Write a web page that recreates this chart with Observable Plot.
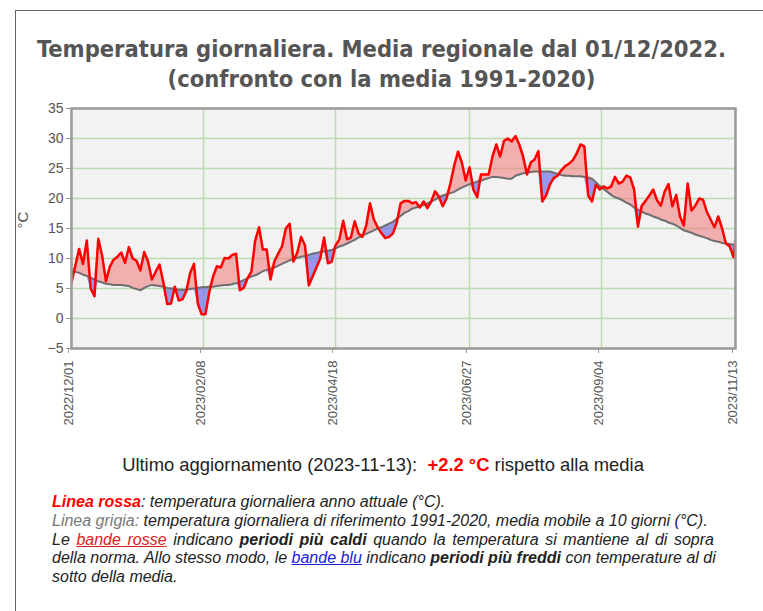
<!DOCTYPE html>
<html>
<head>
<meta charset="utf-8">
<script src="https://cdn.jsdelivr.net/npm/d3@7"></script>
<script src="https://cdn.jsdelivr.net/npm/@observablehq/plot@0.6"></script>
<style>
  body { margin:0; background:#fff; width:763px; height:611px; overflow:hidden; position:relative; }
  #frame { position:absolute; left:15px; top:10px; width:800px; height:700px; border:1px solid #666; box-sizing:border-box; }
  #title { position:absolute; top:34px; left:0; width:763px; text-align:center; font-family:"DejaVu Sans Condensed","DejaVu Sans"; font-weight:bold; font-size:23.5px; line-height:30px; color:#555; }
  #chart { position:absolute; left:0; top:95px; }
  #upd { position:absolute; top:454px; left:0; width:766px; text-align:center; font-family:"Liberation Sans",Arial; font-size:18.4px; color:#222; }
  #upd b { color:#ff0000; }
  #legend { position:absolute; left:52px; top:493px; width:662px; font-family:"Liberation Sans",Arial; font-style:italic; font-size:16px; line-height:18.8px; color:#222; }
  #legend .l { white-space:nowrap; }
  #legend .j { text-align:justify; text-align-last:justify; white-space:nowrap; }
  .red { color:#ff0000; font-weight:bold; }
  .grey { color:#777; }
  .ured { color:#e02020; text-decoration:underline; }
  .ublu { color:#2020e0; text-decoration:underline; }
</style>
</head>
<body>
<div id="frame"></div>
<div id="title">Temperatura giornaliera. Media regionale dal 01/12/2022.<br>(confronto con la media 1991-2020)</div>
<div id="chart"></div>
<div id="upd">Ultimo aggiornamento (2023-11-13):&nbsp; <b>+2.2 °C</b> rispetto alla media</div>
<div id="legend">
  <div class="l"><span class="red">Linea rossa</span>: temperatura giornaliera anno attuale (°C).</div>
  <div class="l"><span class="grey">Linea grigia:</span> temperatura giornaliera di riferimento 1991-2020, media mobile a 10 giorni (°C).</div>
  <div class="j">Le <span class="ured">bande rosse</span> indicano <b>periodi più caldi</b> quando la temperatura si mantiene al di sopra</div>
  <div class="j">della norma. Allo stesso modo, le <span class="ublu">bande blu</span> indicano <b>periodi più freddi</b> con temperature al di</div>
  <div class="l">sotto della media.</div>
</div>
<script>
// First day of the series; values are read every 2 days
const startDate = "2022-12-01";
const endDate = "2023-11-13";
const stepDays = 2;

// Red line: daily temperature of current year (°C), every 2 days
const red = [
  6.0, 8.8, 11.6, 9.1, 13.0, 5.0, 3.7, 13.3, 10.5, 6.2,
  8.6, 9.8, 10.3, 11.0, 9.3, 11.9, 10.0, 9.6, 8.0, 11.1,
  9.5, 6.5, 7.8, 9.0, 6.0, 2.4, 2.5, 5.3, 3.0, 3.2,
  4.6, 7.6, 9.1, 2.5, 0.7, 0.7, 4.4, 7.0, 8.7, 8.5,
  10.1, 10.0, 10.6, 10.8, 4.7, 5.1, 6.7, 7.8, 13.0, 15.2,
  11.5, 11.5, 6.5, 9.5, 10.8, 12.0, 15.0, 15.8, 9.5, 11.0,
  13.6, 12.2, 5.5, 7.0, 8.5, 10.0, 13.5, 9.2, 9.5, 12.2,
  13.2, 16.3, 13.2, 13.5, 16.2, 14.2, 13.6, 15.5, 19.2, 16.5,
  15.2, 14.2, 13.4, 13.6, 14.2, 16.0, 19.2, 19.6, 19.6, 19.2,
  19.4, 18.5, 19.5, 18.4, 19.5, 21.2, 20.3, 18.7, 20.0, 22.5,
  25.5, 27.8, 26.0, 23.0, 25.2, 21.5, 20.2, 24.0, 24.0, 24.0,
  27.0, 29.0, 27.0, 29.6, 30.0, 29.5, 30.4, 29.0, 27.0, 24.0,
  26.0, 26.5, 27.9, 19.5, 20.5, 22.3, 23.4, 23.8, 24.7, 25.4,
  25.8, 26.4, 27.5, 29.0, 28.7, 20.5, 19.5, 22.3, 21.5, 22.0,
  21.7, 22.0, 23.6, 22.5, 22.8, 23.8, 23.5, 21.5, 15.3, 18.8,
  19.6, 20.5, 21.5, 19.7, 18.8, 21.2, 22.4, 18.7, 20.6, 17.0,
  15.5, 22.5, 18.0, 18.8, 20.0, 19.8, 17.8, 16.5, 15.2, 17.0,
  15.0, 12.5, 12.0, 10.2, 15.0
];

// Grey line: reference 1991-2020, 10-day moving average (°C), every 2 days
const grey = [
  8.0, 7.8, 7.6, 7.3, 7.1, 6.8, 6.5, 6.2, 6.0, 5.8,
  5.7, 5.6, 5.6, 5.6, 5.5, 5.4, 5.1, 4.9, 4.7, 5.1,
  5.4, 5.6, 5.5, 5.4, 5.3, 5.1, 5.0, 4.9, 4.8, 4.8,
  4.8, 4.9, 5.0, 5.1, 5.2, 5.2, 5.3, 5.3, 5.4, 5.5,
  5.6, 5.6, 5.7, 5.9, 6.1, 6.4, 6.7, 7.0, 7.2, 7.5,
  7.9, 8.1, 8.3, 8.5, 8.8, 9.1, 9.4, 9.7, 9.9, 10.1,
  10.3, 10.4, 10.6, 10.8, 10.9, 11.1, 11.2, 11.3, 11.4, 11.7,
  12.0, 12.2, 12.5, 12.8, 13.1, 13.5, 13.8, 14.1, 14.4, 14.7,
  15.0, 15.2, 15.5, 15.8, 16.1, 16.6, 17.1, 17.6, 17.9, 18.3,
  18.5, 18.7, 18.9, 19.2, 19.5, 19.8, 20.2, 20.5, 20.7, 20.9,
  21.1, 21.5, 21.8, 22.1, 22.4, 22.6, 22.8, 23.0, 23.2, 23.4,
  23.6, 23.6, 23.5, 23.4, 23.3, 23.3, 23.8, 24.0, 24.2, 24.3,
  24.4, 24.5, 24.5, 24.5, 24.5, 24.5, 24.3, 24.1, 23.9, 23.8,
  23.8, 23.7, 23.7, 23.7, 23.6, 23.5, 23.3, 22.7, 22.1, 21.6,
  21.1, 20.6, 20.2, 20.0, 19.7, 19.3, 19.0, 18.5, 18.1, 17.8,
  17.5, 17.3, 17.0, 16.8, 16.5, 16.3, 16.0, 15.8, 15.5, 15.1,
  14.7, 14.5, 14.3, 14.0, 13.8, 13.6, 13.4, 13.1, 12.9, 12.8,
  12.6, 12.5, 12.4, 12.3, 12.2
];

// Axis ticks
const xTickLabels = ["2022-12-01", "2023-02-08", "2023-04-18", "2023-06-27", "2023-09-04", "2023-11-13"];
const yTicks = [-5, 0, 5, 10, 15, 20, 25, 30, 35];

const parse = d3.utcParse("%Y-%m-%d");
const start = parse(startDate);
const end = parse(endDate);
const xTicks = xTickLabels.map(parse);

const data = red.map((r, i) => ({
  date: d3.utcDay.offset(start, i * stepDays),
  red: r,
  grey: grey[i]
}));

const gridColor = "#bddcae";

const chart = Plot.plot({
  width: 763,
  height: 345,
  marginLeft: 71,
  marginRight: 28,
  marginTop: 13,
  marginBottom: 92,
  style: { background: "transparent", fontFamily: "Liberation Sans, Arial, sans-serif", color: "#555" },
  x: { type: "utc", domain: [start, end] },
  y: { domain: [-5, 35] },
  marks: [
    Plot.frame({ fill: "#f2f2f2", stroke: "none" }),
    Plot.gridY(yTicks, { stroke: gridColor, strokeOpacity: 1, strokeWidth: 1.5 }),
    Plot.gridX(xTicks, { stroke: gridColor, strokeOpacity: 1, strokeWidth: 1.5 }),
    Plot.areaY(data, { x: "date", y1: "grey", y2: d => Math.max(d.red, d.grey), fill: "#f08282", fillOpacity: 0.6, clip: true }),
    Plot.areaY(data, { x: "date", y1: d => Math.min(d.red, d.grey), y2: "grey", fill: "#7f7fe8", fillOpacity: 0.8, clip: true }),
    Plot.lineY(data, { x: "date", y: "grey", stroke: "#6e6e6e", strokeWidth: 2, clip: true }),
    Plot.lineY(data, { x: "date", y: "red", stroke: "#ff0000", strokeWidth: 2.5, strokeLinejoin: "round", clip: true }),
    Plot.frame({ stroke: "#9a9a9a", strokeWidth: 2.5 }),
    Plot.axisY(yTicks, { tickSize: 5, tickPadding: 3, fontSize: 14, stroke: "#999", fill: "#555", label: null }),
    Plot.axisX(xTicks, { tickFormat: d3.utcFormat("%Y/%m/%d"), tickRotate: -90, tickSize: 5, tickPadding: 7, fontSize: 13, stroke: "#999", fill: "#555", label: null, dx: -3 }),
    Plot.text(["°C"], { frameAnchor: "left", dx: -48, rotate: -90, fontSize: 15, fill: "#555" })
  ]
});
document.getElementById("chart").appendChild(chart);
</script>
</body>
</html>
